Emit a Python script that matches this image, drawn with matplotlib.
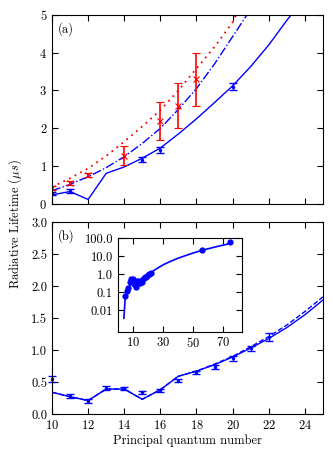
import numpy as np
import matplotlib
matplotlib.use("Agg")
from matplotlib import pyplot as plt
from matplotlib.ticker import FixedLocator, FuncFormatter

plt.rcParams['font.family'] = 'serif'
plt.rcParams['font.serif'] = ['cmr10', 'DejaVu Serif']
plt.rcParams['mathtext.fontset'] = 'cm'
plt.rcParams['axes.formatter.use_mathtext'] = True
plt.rcParams['axes.unicode_minus'] = False
plt.rcParams['font.size'] = 9
plt.rcParams['xtick.direction'] = 'in'
plt.rcParams['ytick.direction'] = 'in'
plt.rcParams['xtick.top'] = True
plt.rcParams['ytick.right'] = True
plt.rcParams['xtick.major.size'] = 4
plt.rcParams['ytick.major.size'] = 4
plt.rcParams['xtick.minor.size'] = 2
plt.rcParams['ytick.minor.size'] = 2

# ---- panel (a) ----
n_red = [10, 11, 12, 14, 16, 17, 18]
tau_red = [0.42, 0.55, 0.77, 1.27, 2.2, 2.6, 3.3]
err_red = [0.05, 0.05, 0.05, 0.25, 0.5, 0.6, 0.7]

n_blue = [10, 11, 15, 16, 20]
tau_blue = [0.28, 0.35, 1.17, 1.43, 3.1]
err_blue = [0.05, 0.05, 0.06, 0.07, 0.1]

n_dot = [10, 11, 12, 13, 14, 15, 16, 17, 18, 19, 20, 20.2]
tau_dot = [0.45, 0.68, 0.94, 1.27, 1.65, 2.05, 2.48, 3.0, 3.58, 4.15, 4.8, 5.0]

n_dd = [10, 11, 12, 13, 14, 15, 16, 17, 18, 19, 20, 20.8]
tau_dd = [0.35, 0.52, 0.72, 0.96, 1.25, 1.6, 2.0, 2.5, 3.05, 3.7, 4.42, 5.0]

n_th_a = [10, 11, 12, 13, 14, 15, 16, 17, 18, 19, 20, 21, 22, 23, 23.25]
tau_th_a = [0.24, 0.33, 0.12, 0.81, 0.98, 1.21, 1.48, 1.85, 2.25, 2.68, 3.12, 3.63, 4.2, 4.85, 5.0]

# ---- panel (b) ----
n_b = [10, 11, 12, 13, 14, 15, 16, 17, 18, 19, 20, 21, 22]
tau_b = [0.55, 0.28, 0.2, 0.41, 0.4, 0.34, 0.37, 0.52, 0.65, 0.73, 0.87, 1.03, 1.2]
err_b = [0.05, 0.03, 0.03, 0.03, 0.02, 0.02, 0.02, 0.02, 0.02, 0.03, 0.04, 0.04, 0.06]

n_th_b = [10, 11, 12, 13, 14, 15, 16, 17, 18, 19, 20, 21, 22, 23, 24, 25]
tau_th_b = [0.34, 0.27, 0.21, 0.39, 0.39, 0.23, 0.38, 0.59, 0.67, 0.77, 0.89, 1.03, 1.18, 1.35, 1.55, 1.78]
tau_th_b2 = [0.34, 0.27, 0.21, 0.39, 0.39, 0.23, 0.38, 0.59, 0.67, 0.78, 0.9, 1.05, 1.21, 1.39, 1.6, 1.83]

# ---- inset ----
n_in = [4, 5, 6, 7, 8, 9, 10, 11, 12, 13, 14, 15, 16, 17, 18, 19, 20, 21, 22,
        25, 30, 35, 40, 45, 50, 56, 60, 65, 70, 75]
tau_in = [0.0035, 0.06, 0.1, 0.17, 0.22, 0.45, 0.34, 0.27, 0.21, 0.39, 0.39, 0.23,
          0.38, 0.59, 0.67, 0.77, 0.89, 1.03, 1.18, 1.78, 3.2, 5.0, 7.5, 10.5,
          14.5, 20.5, 25, 32, 40, 50]
n_in_pts = [5, 6, 7, 8, 9, 10, 11, 12, 13, 14, 15, 16, 17, 18, 19, 20, 21, 22, 56, 75]
tau_in_pts = [0.06, 0.11, 0.17, 0.38, 0.5, 0.55, 0.28, 0.2, 0.41, 0.4, 0.34, 0.37,
              0.52, 0.65, 0.73, 0.87, 1.03, 1.2, 23, 58]
in_ticks = [0.01, 0.1, 1.0, 10.0, 100.0]
in_labels = ['0.01', '0.1', '1.0', '10.0', '100.0']

fig = plt.figure(figsize=(3.32, 4.57), dpi=100)
ax1 = fig.add_axes([0.1566, 0.5536, 0.816, 0.4142])
ax2 = fig.add_axes([0.1566, 0.0941, 0.816, 0.4201])
ax3 = fig.add_axes([0.355, 0.2746, 0.375, 0.2046])

ax1.plot(n_th_a, tau_th_a, '-', color='blue', lw=1)
ax1.plot(n_dd, tau_dd, '-.', color='blue', lw=1)
ax1.plot(n_dot, tau_dot, linestyle=(0, (1, 2.5)), color='red', lw=1.3)
ax1.errorbar(n_red, tau_red, yerr=err_red, fmt='x', color='red', ms=4, mew=0.8,
             capsize=3, elinewidth=1.2)
ax1.errorbar(n_blue, tau_blue, yerr=err_blue, fmt='.', color='blue', ms=3,
             capsize=3, elinewidth=1)
ax1.set_xlim(10, 25)
ax1.set_ylim(0, 5)
ax1.set_xticks(range(10, 26, 2))
ax1.set_xticklabels([])
ax1.set_yticks(range(0, 6))
ax1.text(0.02, 0.96, '(a)', transform=ax1.transAxes, va='top', ha='left')

ax2.plot(n_th_b, tau_th_b2, '--', color='blue', lw=1)
ax2.plot(n_th_b, tau_th_b, '-', color='blue', lw=1)
ax2.errorbar(n_b, tau_b, yerr=err_b, fmt='.', color='blue', ms=3,
             capsize=3, elinewidth=1, clip_on=False)
ax2.set_xlim(10, 25)
ax2.set_ylim(0, 3)
ax2.set_xticks(range(10, 26, 2))
ax2.set_yticks(np.arange(0, 3.01, 0.5))
ax2.yaxis.set_major_formatter(FuncFormatter(lambda v, p: '%.1f' % v))
ax2.text(0.02, 0.96, '(b)', transform=ax2.transAxes, va='top', ha='left')
ax2.set_xlabel('Principal quantum number', labelpad=2)

ax3.plot(n_in, tau_in, '-', color='blue', lw=1.2)
ax3.plot(n_in_pts, tau_in_pts, 'o', color='blue', ms=3.5)
ax3.set_yscale('log')
ax3.set_xlim(0, 83)
ax3.set_ylim(6.5e-4, 100)
ax3.set_xticks([10, 30, 50, 70])
ax3.yaxis.set_major_locator(FixedLocator(in_ticks))
ax3.set_yticklabels(in_labels)

fig.text(0.045, 0.51, r'Radiative Lifetime ($\mu s$)', rotation=90,
         va='center', ha='center')

fig.savefig('out.png', dpi=100)
